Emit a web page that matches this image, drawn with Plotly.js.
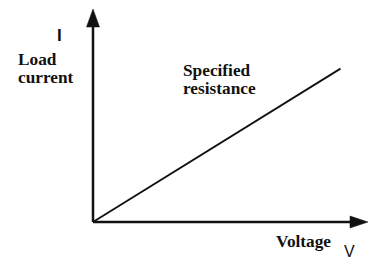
<!DOCTYPE html>
<html>
<head>
<meta charset="utf-8">
<script src="https://cdn.plot.ly/plotly-3.0.1.min.js"></script>
<style>html,body{margin:0;padding:0;background:#fff;}#chart{width:374px;height:265px;}</style>
</head>
<body>
<div id="chart"></div>
<script>
// Data: load current rises linearly with voltage (specified resistance)
var voltage = [0, 9];
var current = [0, 7.2];
var axisMaxX = 10;
var axisMaxY = 10;

var xToPx = 27.5, yToPx = 21.3; // px per unit (for arrow placement)
var plotL = 60, plotW = 314, plotB = 235, plotH = 235;
function px2paperX(px){ return (px - plotL) / plotW; }
function px2paperY(py){ return (plotB - py) / plotH; }

var trace = {
  x: voltage, y: current, mode: 'lines', type: 'scatter',
  line: {color: '#111', width: 1.8}, hoverinfo: 'skip', showlegend: false
};

var serif = {family: 'Liberation Serif, Times New Roman, serif', size: 17.3, color: '#111', weight: 'bold'};
function lab(text, px, py, font, anchor, h){
  var a = {text: text, x: px2paperX(px), y: px2paperY(py), xref: 'paper', yref: 'paper', showarrow: false,
          xanchor: anchor || 'left', yanchor: 'middle', borderpad: 0, font: font};
  if (h) { a.height = h; a.valign = 'middle'; }
  return a;
}
var headLen = 18, headHalfY = 6.5, headHalfX = 6;
var shapes = [
  {type: 'line', x0: 0, y0: 0, x1: 0, y1: axisMaxY - 16/yToPx, line: {color: '#111', width: 2.5}},
  {type: 'line', x0: 0, y0: 0, x1: axisMaxX - 16/xToPx, y1: 0, line: {color: '#111', width: 2.5}},
  {type: 'path', path: 'M ' + (-headHalfY/xToPx) + ',' + (axisMaxY - headLen/yToPx) + ' L 0,' + axisMaxY + ' L ' + (headHalfY/xToPx) + ',' + (axisMaxY - headLen/yToPx) + ' Z',
   fillcolor: '#111', line: {color: '#111', width: 0.5}},
  {type: 'path', path: 'M ' + (axisMaxX - headLen/xToPx) + ',' + (-headHalfX/yToPx) + ' L ' + axisMaxX + ',0 L ' + (axisMaxX - headLen/xToPx) + ',' + (headHalfX/yToPx) + ' Z',
   fillcolor: '#111', line: {color: '#111', width: 0.5}}
];
var annotations = [
  lab('I', 59.5, 35.6, {family: 'Liberation Sans, Arial, sans-serif', size: 17, color: '#111', weight: 'bold'}, 'center'),
  lab('Load', 17, 59.3, serif, 'left', 16),
  lab('current', 17, 76.6, serif, 'left', 16),
  lab('Specified', 182, 70, serif),
  lab('resistance', 182, 88.8, serif),
  lab('Voltage', 275, 241, serif),
  lab('V', 349.5, 251.4, {family: 'Liberation Sans Narrow, Liberation Sans, Arial, sans-serif', size: 16, color: '#111'}, 'center')
];

var layout = {
  width: 374, height: 265,
  margin: {l: plotL, r: 374 - plotL - plotW, t: 0, b: 265 - plotB, pad: 0},
  paper_bgcolor: '#fff', plot_bgcolor: '#fff',
  xaxis: {range: [-33/xToPx, axisMaxX + 6/xToPx], visible: false, fixedrange: true},
  yaxis: {range: [-13/yToPx, axisMaxY + 9/yToPx], visible: false, fixedrange: true},
  shapes: shapes, annotations: annotations, showlegend: false
};
Plotly.newPlot('chart', [trace], layout, {staticPlot: true, displayModeBar: false});
</script>
</body>
</html>
